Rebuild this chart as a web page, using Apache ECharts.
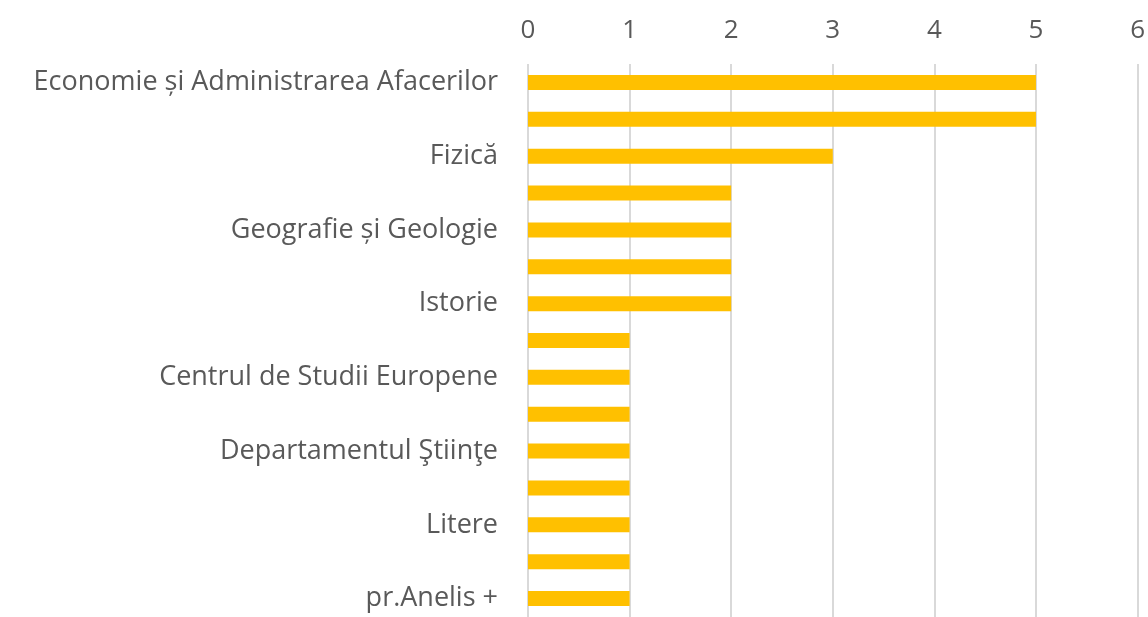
<!DOCTYPE html>
<html>
<head>
<meta charset="utf-8">
<script src="https://cdn.jsdelivr.net/npm/echarts@6/dist/echarts.min.js"></script>
<style>
html, body { margin: 0; padding: 0; background: #fff; }
#chart { width: 1148px; height: 617px; }
</style>
</head>
<body>
<div id="chart"></div>
<script>
// facultati (etichetele din mijloc nu se vad in original, doar una din doua)
var categorii = [
    "Economie și Administrarea Afacerilor",
    "Matematică și Informatică",
    "Fizică",
    "Chimie",
    "Geografie și Geologie",
    "Biologie",
    "Istorie",
    "Drept",
    "Centrul de Studii Europene",
    "Psihologie",
    "Departamentul Ştiinţe",
    "Filosofie",
    "Litere",
    "Teologie",
    "pr.Anelis +"
];
var valori = [5, 5, 3, 2, 2, 2, 2, 1, 1, 1, 1, 1, 1, 1, 1];
var tickuri = [0, 1, 2, 3, 4, 5, 6];

var font = "'Open Sans', 'Noto Sans', sans-serif";
var chart = echarts.init(document.getElementById('chart'));
chart.setOption({
    animation: false,
    grid: { left: 528, right: 9, top: 64, bottom: -3, containLabel: false },
    xAxis: {
        type: 'value',
        position: 'top',
        min: tickuri[0],
        max: tickuri[tickuri.length - 1],
        interval: 1,
        axisLine: { show: false },
        axisTick: { show: false },
        axisLabel: { color: '#595959', fontSize: 26, fontFamily: font, margin: 20 },
        splitLine: { lineStyle: { color: '#d9d9d9', width: 2 } }
    },
    yAxis: {
        type: 'category',
        inverse: true,
        data: categorii,
        axisLine: { show: false },
        axisTick: { show: false },
        axisLabel: { interval: 1, color: '#595959', fontSize: 27, fontFamily: font, margin: 30 }
    },
    series: [{
        type: 'bar',
        data: valori,
        barWidth: 15,
        itemStyle: { color: '#FFC000' }
    }]
});
</script>
</body>
</html>
